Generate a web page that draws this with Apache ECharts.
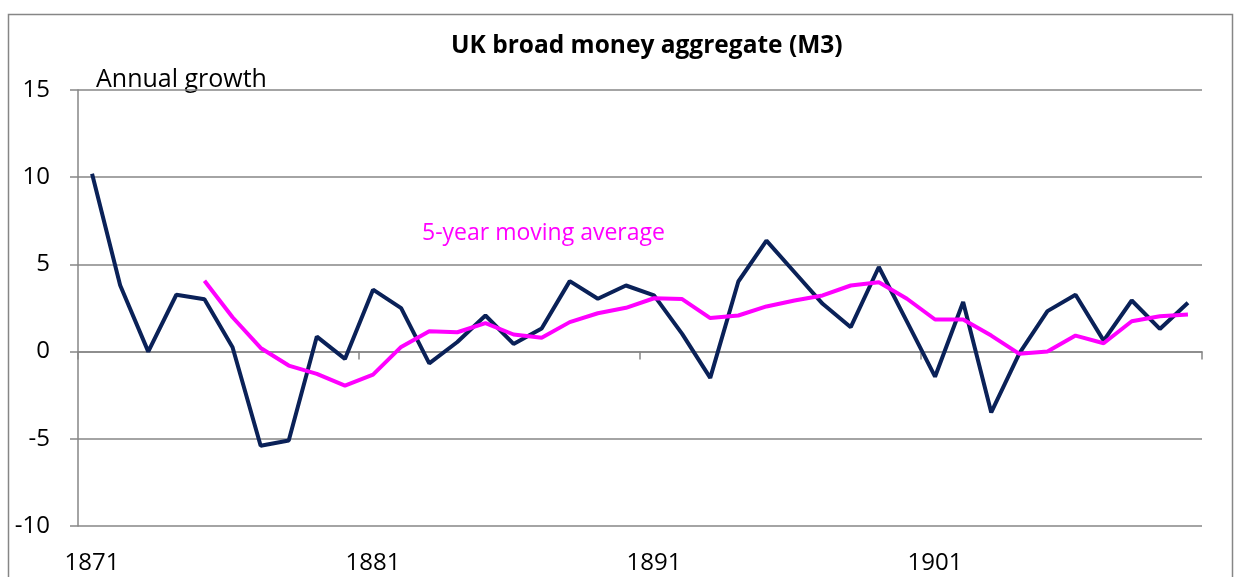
<!DOCTYPE html>
<html>
<head>
<meta charset="utf-8">
<title>UK broad money aggregate (M3)</title>
<script src="https://cdn.jsdelivr.net/npm/echarts@6/dist/echarts.min.js"></script>
<style>
  html, body { margin: 0; padding: 0; background: #fff; }
  #chart { width: 1234px; height: 577px; }
</style>
</head>
<body>
<div id="chart"></div>
<script>
// 年份 1871-1910
var years = [
  '1871', '1872', '1873', '1874', '1875', '1876', '1877', '1878', '1879', '1880',
  '1881', '1882', '1883', '1884', '1885', '1886', '1887', '1888', '1889', '1890',
  '1891', '1892', '1893', '1894', '1895', '1896', '1897', '1898', '1899', '1900',
  '1901', '1902', '1903', '1904', '1905', '1906', '1907', '1908', '1909', '1910'
];

// annual growth, %
var annualGrowth = [
  10.2, 3.8, 0.0, 3.26, 3.0, 0.25, -5.4, -5.1, 0.86, -0.42,
  3.55, 2.49, -0.67, 0.55, 2.07, 0.44, 1.32, 4.04, 3.03, 3.79,
  3.22, 1.02, -1.51, 4.02, 6.36, 4.55, 2.74, 1.4, 4.85, 1.72,
  -1.44, 2.84, -3.49, -0.1, 2.32, 3.26, 0.63, 2.93, 1.3, 2.8
];

// 5-year moving average (starts 1875)
var movingAvg = [
  null, null, null, null, 4.06, 1.97, 0.21, -0.8, -1.28, -1.95,
  -1.32, 0.27, 1.17, 1.11, 1.63, 0.98, 0.79, 1.69, 2.2, 2.51,
  3.06, 3.01, 1.92, 2.07, 2.59, 2.93, 3.22, 3.79, 3.98, 3.03,
  1.84, 1.84, 0.92, -0.13, 0.0, 0.92, 0.48, 1.74, 2.03, 2.13
];

var yTicks = { min: -10, max: 15, step: 5 };

var gridGray = '#868686';
var font = 'Open Sans, Liberation Sans, sans-serif';

var option = {
  animation: false,
  backgroundColor: '#fff',
  title: {
    text: 'UK broad money aggregate (M3)',
    left: 446,
    top: 29,
    textStyle: { fontFamily: font, fontWeight: 'bold', fontSize: 24.5, color: '#000' }
  },
  grid: { left: 78, right: 32, top: 90, bottom: 51 },
  graphic: [
    {
      // 图表外框
      type: 'rect',
      shape: { x: 8.5, y: 14.5, width: 1224, height: 620 },
      style: { fill: 'none', stroke: gridGray, lineWidth: 1.5 },
      silent: true
    },
    {
      type: 'text',
      left: 96,
      top: 67,
      style: { text: 'Annual growth', fontFamily: font, fontSize: 25, fill: '#000' }
    },
    {
      type: 'text',
      left: 422,
      top: 222,
      style: { text: '5-year moving average', fontFamily: font, fontSize: 23, fill: '#ff00ff' }
    }
  ],
  xAxis: [
    {
      // zero line with the ticks
      type: 'category',
      data: years,
      boundaryGap: true,
      axisLine: { onZero: true, lineStyle: { color: gridGray, width: 1.5 } },
      axisTick: { show: true, interval: 9, length: 8, lineStyle: { color: gridGray, width: 1.5 } },
      axisLabel: { show: false },
      splitLine: { show: false }
    },
    {
      // year labels at the bottom
      type: 'category',
      data: years,
      position: 'bottom',
      boundaryGap: true,
      axisLine: { show: false, onZero: false },
      axisTick: { show: false },
      axisLabel: {
        interval: 9,
        margin: 25,
        fontFamily: font,
        fontSize: 24,
        color: '#000'
      },
      splitLine: { show: false }
    }
  ],
  yAxis: {
    type: 'value',
    min: yTicks.min,
    max: yTicks.max,
    interval: yTicks.step,
    axisLine: { show: true, lineStyle: { color: gridGray, width: 1.5 } },
    axisTick: { show: true, length: 8, lineStyle: { color: gridGray, width: 1.5 } },
    axisLabel: { margin: 28, fontFamily: font, fontSize: 24, color: '#000' },
    splitLine: { lineStyle: { color: gridGray, width: 1.5 } }
  },
  series: [
    {
      name: 'Annual growth',
      type: 'line',
      xAxisIndex: 0,
      data: annualGrowth,
      symbol: 'none',
      lineStyle: { color: '#0a2158', width: 4 },
      z: 3
    },
    {
      name: '5-year moving average',
      type: 'line',
      xAxisIndex: 0,
      data: movingAvg,
      symbol: 'none',
      connectNulls: false,
      lineStyle: { color: '#ff00ff', width: 4 },
      z: 4
    }
  ]
};

var myChart = echarts.init(document.getElementById('chart'));
myChart.setOption(option);
</script>
</body>
</html>
